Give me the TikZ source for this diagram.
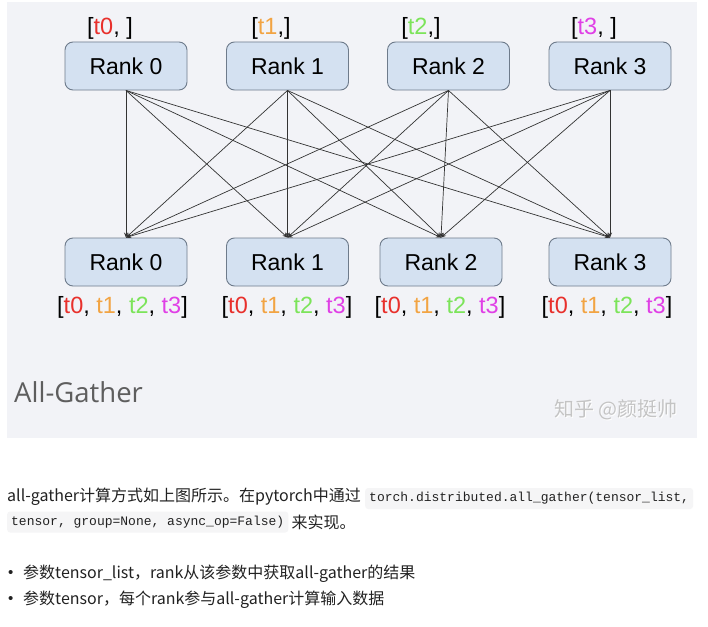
\documentclass[tikz,border=0pt]{standalone}
\usepackage{fontspec}
\setmainfont{Liberation Sans}
\newfontfamily\cjk{Noto Sans CJK SC}
\newfontfamily\ogfont{Open Sans}
\newfontfamily\codefont{Liberation Mono}
\usetikzlibrary{arrows.meta}
\definecolor{panelbg}{HTML}{F2F3F7}
\definecolor{boxfill}{HTML}{D4E1F1}
\definecolor{boxdraw}{HTML}{6E7B8B}
\definecolor{cz}{HTML}{E8302C}
\definecolor{co}{HTML}{F2A443}
\definecolor{ct}{HTML}{7CE45A}
\definecolor{cth}{HTML}{E040E6}
\definecolor{codebg}{HTML}{F5F5F6}
\definecolor{txtc}{HTML}{222222}
\definecolor{titlec}{HTML}{5E5E5E}
\definecolor{wmc}{HTML}{C4C4C4}
\tikzset{
  rankbox/.style={draw=boxdraw, fill=boxfill, line width=0.9pt, rounded corners=8pt,
    minimum width=122pt, minimum height=48pt, inner sep=0pt,
    font=\fontsize{23}{27}\selectfont, text=black},
  lbl/.style={inner sep=0pt, font=\fontsize{23.5}{27}\selectfont, text=black},
  edge/.style={draw=black!80, line width=0.7pt, -{Stealth[length=5pt,width=4pt]}},
  body/.style={inner sep=0pt, anchor=base west, font=\cjk\fontsize{16}{20}\selectfont, text=txtc},
  bullet/.style={inner sep=0pt, anchor=base west, font=\rmfamily\fontsize{15}{20}\selectfont, text=txtc},
  codebox/.style={fill=codebg, rounded corners=3pt, inner xsep=4pt, inner ysep=0pt,
    minimum height=21pt, anchor=west, font=\codefont\fontsize{13}{16}\selectfont, text=txtc},
}
\newcommand{\tzr}{\textcolor{cz}{t0}}
\newcommand{\ton}{\textcolor{co}{t1}}
\newcommand{\ttw}{\textcolor{ct}{t2}}
\newcommand{\tth}{\textcolor{cth}{t3}}
\begin{document}
\begin{tikzpicture}[x=1pt,y=-1pt]
\useasboundingbox (0,0) rectangle (708,626);
\fill[white] (0,0) rectangle (708,626);
\fill[panelbg] (7,2) rectangle (697,438);
% top row
\node[rankbox] (t0) at (126,66) {Rank 0};
\node[rankbox] (t1) at (287.5,66) {Rank 1};
\node[rankbox] (t2) at (448.5,66) {Rank 2};
\node[rankbox] (t3) at (610,66) {Rank 3};
% bottom row
\node[rankbox] (b0) at (126,262) {Rank 0};
\node[rankbox] (b1) at (287.5,262) {Rank 1};
\node[rankbox] (b2) at (441,262) {Rank 2};
\node[rankbox] (b3) at (610,262) {Rank 3};
% top labels
\node[lbl] (lt0) at (110,28) {[\tzr, ]};
\node[lbl] (lt1) at (271,28) {[\ton,]};
\node[lbl] (lt2) at (421,28) {[\ttw,]};
\node[lbl] (lt3) at (594,28) {[\tth, ]};
% bottom labels
\node[lbl] (lb0) at (122.5,307) {[\tzr, \ton, \ttw, \tth]};
\node[lbl] (lb1) at (287,307) {[\tzr, \ton, \ttw, \tth]};
\node[lbl] (lb2) at (440,307) {[\tzr, \ton, \ttw, \tth]};
\node[lbl] (lb3) at (607,307) {[\tzr, \ton, \ttw, \tth]};
% edges
\foreach \s in {t0,t1,t2,t3}{
  \foreach \d in {b0,b1,b2,b3}{
    \draw[edge] (\s.south) -- (\d.north);
  }
}
% title and watermark
\node[inner sep=0pt, anchor=west, font=\ogfont\fontsize{27.5}{30}\selectfont, text=titlec] (title) at (14,392) {All-Gather};
\node[inner sep=0pt, font=\cjk\fontsize{20}{22}\selectfont, text=white] (wms) at (617,411) {知乎 @颜挺帅};
\node[inner sep=0pt, font=\cjk\fontsize{20}{22}\selectfont, text=wmc] (wm) at (616,410) {知乎 @颜挺帅};
% body text
\node[body] (p1) at (7,501) {all-gather计算方式如上图所示。在pytorch中通过};
\node[codebox] (c1) at (365,498.5) {torch.distributed.all\_gather(tensor\_list,};
\node[codebox] (c2) at (7,522) {tensor, group=None, async\_op=False)};
\node[body] (p2) at ([xshift=3pt]c2.east |- 0,528) {来实现。};
\node[bullet] (bu1) at (8,577) {•};
\node[body] (q1) at (23,578) {参数tensor\_list，rank从该参数中获取all-gather的结果};
\node[bullet] (bu2) at (8,603) {•};
\node[body] (q2) at (23,604) {参数tensor，每个rank参与all-gather计算输入数据};
\end{tikzpicture}
\end{document}
